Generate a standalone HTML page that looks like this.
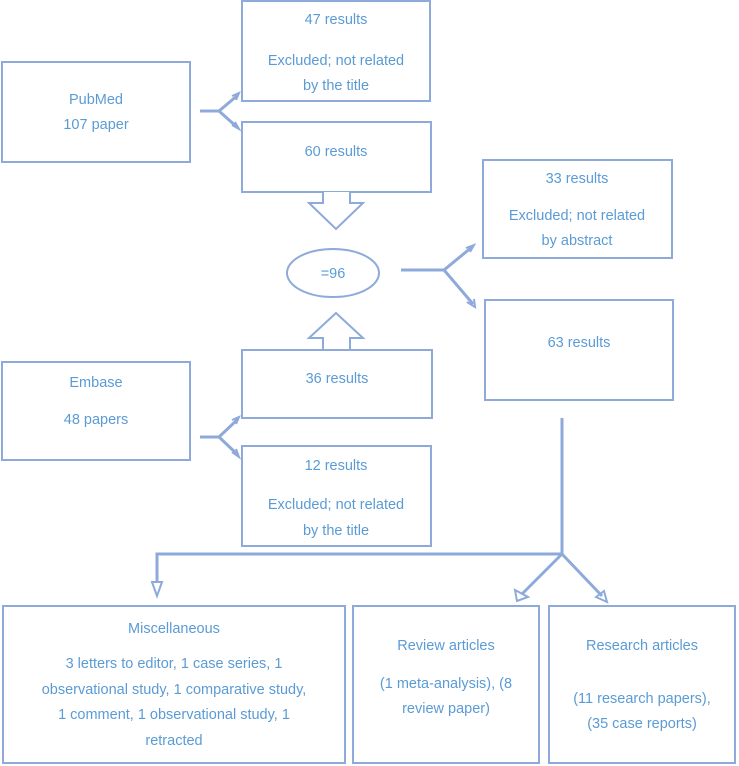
<!DOCTYPE html>
<html><head><meta charset="utf-8"><style>
html,body{margin:0;padding:0;background:#fff;}
svg{display:block;}
text{font-family:"Liberation Sans",sans-serif;font-size:14.5px;fill:#5b9bd5;text-anchor:middle;}
.b{fill:#fff;stroke:#8eaadb;stroke-width:2;}
.l{stroke:#8eaadb;stroke-width:3;fill:none;}
.t{stroke:#8eaadb;stroke-width:2;fill:none;}
</style></head><body>
<svg width="739" height="766" viewBox="0 0 739 766" xmlns="http://www.w3.org/2000/svg">
<rect class="b" x="2" y="62" width="188" height="100"/>
<text x="96" y="104">PubMed</text>
<text x="96" y="129">107 paper</text>
<rect class="b" x="242" y="1" width="188" height="100"/>
<text x="336" y="24">47 results</text>
<text x="336" y="65">Excluded; not related</text>
<text x="336" y="90">by the title</text>
<rect class="b" x="242" y="122" width="189" height="70"/>
<text x="336" y="156">60 results</text>
<polyline class="b" points="323,192 323,203 309,203 336,229 363,203 350,203 350,192"/>
<path class="l" d="M200,111 L219,111 L238,95 M219,111 L238,128"/>
<path class="t" d="M232,96 L239,93 L236,100 M232,125 L239,129 L235,122"/>
<ellipse class="b" cx="333" cy="273" rx="46" ry="24"/>
<text x="333" y="278">=96</text>
<path class="l" d="M401,270 L444,270 L472,247 M444,270 L473,304"/>
<path class="t" d="M466,248 L474,245 L470,252 M467,302 L475,307 L474,299"/>
<rect class="b" x="483" y="160" width="189" height="98"/>
<text x="577" y="183">33 results</text>
<text x="577" y="220">Excluded; not related</text>
<text x="577" y="245">by abstract</text>
<rect class="b" x="485" y="300" width="188" height="100"/>
<text x="579" y="347">63 results</text>
<rect class="b" x="2" y="362" width="188" height="98"/>
<text x="96" y="387">Embase</text>
<text x="96" y="424">48 papers</text>
<polyline class="b" points="323,350 323,338 309,338 336,313 363,338 350,338 350,350"/>
<rect class="b" x="242" y="350" width="190" height="68"/>
<text x="337" y="383">36 results</text>
<rect class="b" x="242" y="446" width="189" height="100"/>
<text x="336" y="470">12 results</text>
<text x="336" y="509">Excluded; not related</text>
<text x="336" y="535">by the title</text>
<path class="l" d="M200,437 L219,437 L238,419 M219,437 L238,455"/>
<path class="t" d="M232,420 L239,417 L236,424 M232,452 L239,457 L236,449"/>
<path class="l" d="M562,418 L562,554 L157,554 L157,582 M562,554 L522,594 M562,554 L602,596"/>
<path class="t" d="M152,582 L157,596 L162,582 Z M515,590 L517,601 L528,597 Z M596,597 L607,602 L604,591 Z"/>
<rect class="b" x="3" y="606" width="342" height="157"/>
<text x="174" y="633">Miscellaneous</text>
<text x="174" y="668">3 letters to editor, 1 case series, 1</text>
<text x="174" y="694">observational study, 1 comparative study,</text>
<text x="174" y="719">1 comment, 1 observational study, 1</text>
<text x="174" y="745">retracted</text>
<rect class="b" x="353" y="606" width="186" height="157"/>
<text x="446" y="650">Review articles</text>
<text x="446" y="688">(1 meta-analysis), (8</text>
<text x="446" y="713">review paper)</text>
<rect class="b" x="549" y="606" width="186" height="157"/>
<text x="642" y="650">Research articles</text>
<text x="642" y="703">(11 research papers),</text>
<text x="642" y="728">(35 case reports)</text>
</svg>
</body></html>
